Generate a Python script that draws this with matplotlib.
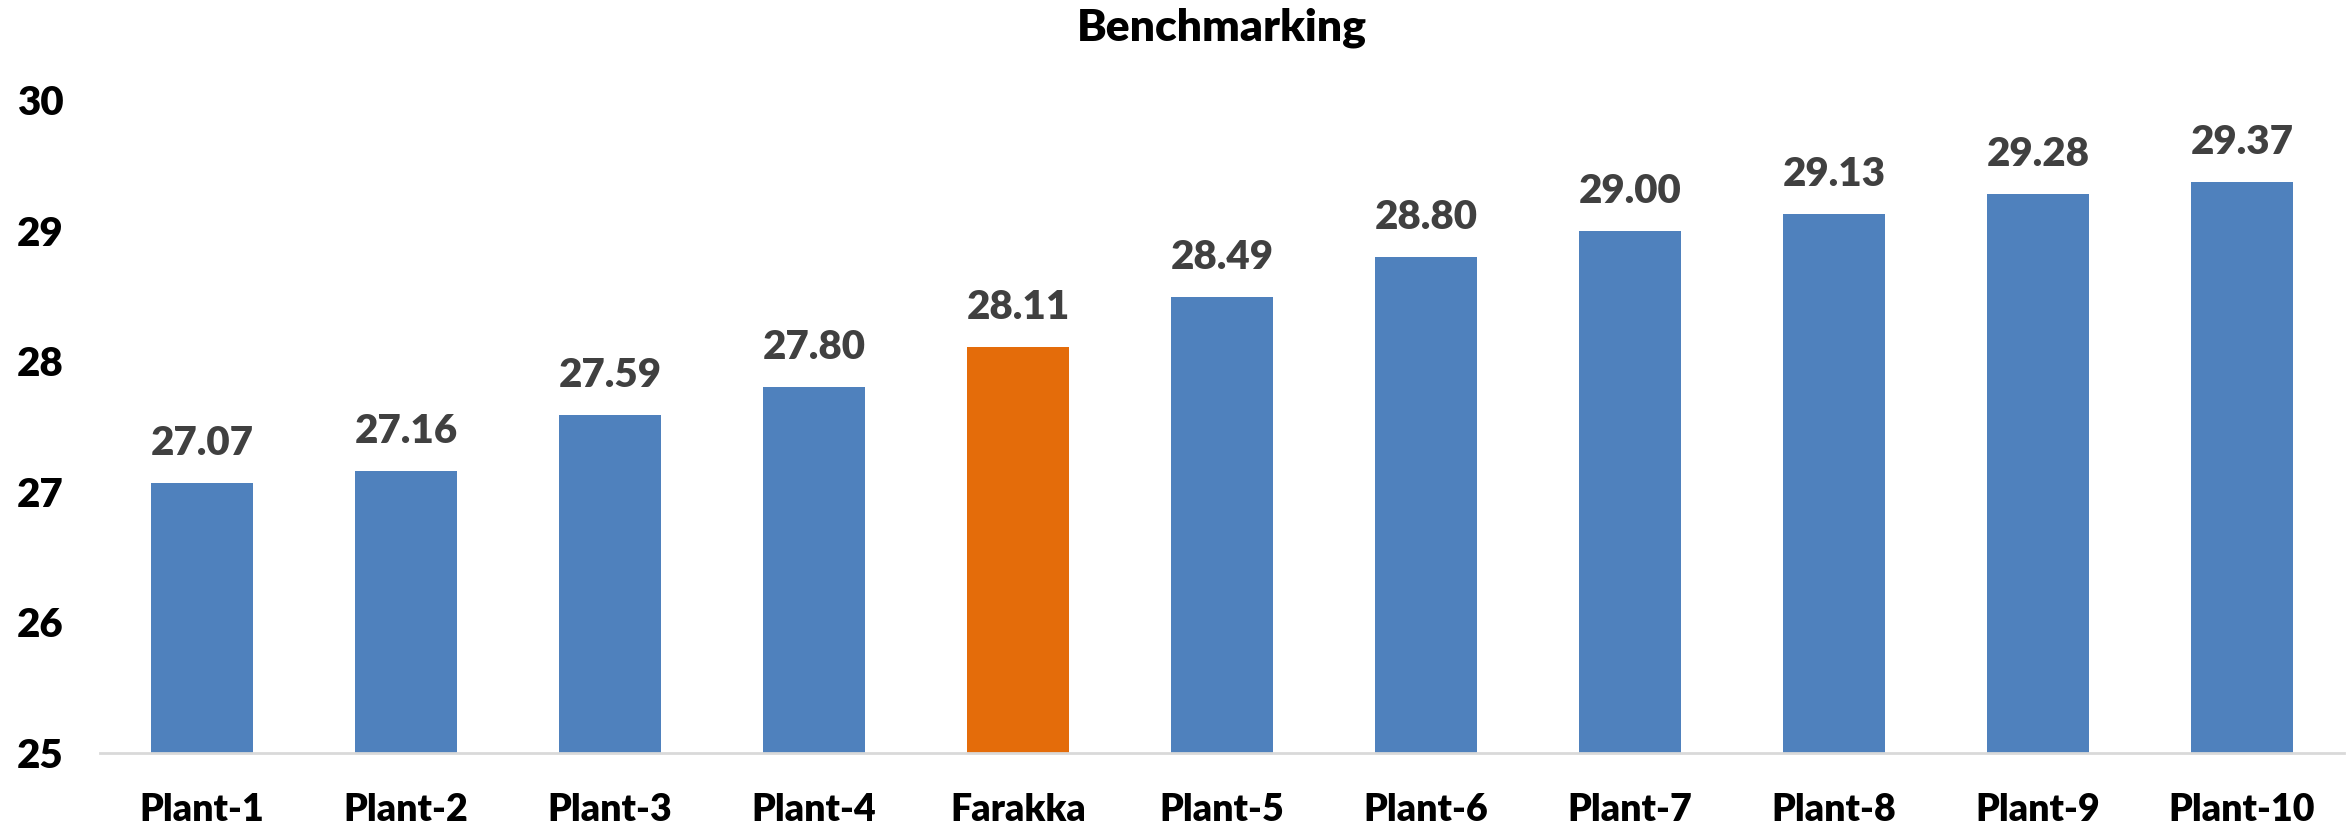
import matplotlib.pyplot as plt

plants = ['Plant-1', 'Plant-2', 'Plant-3', 'Plant-4', 'Farakka', 'Plant-5',
          'Plant-6', 'Plant-7', 'Plant-8', 'Plant-9', 'Plant-10']
values = [27.07, 27.16, 27.59, 27.80, 28.11, 28.49, 28.80, 29.00, 29.13, 29.28, 29.37]
highlight = 'Farakka'

plt.rcParams['font.family'] = ['Lato', 'DejaVu Sans']
plt.rcParams['font.weight'] = 'heavy'

fig = plt.figure(figsize=(23.46, 8.27), dpi=100)
ax = fig.add_axes([100 / 2346, 74 / 827, 2244 / 2346, 653 / 827])

colors = ['#E46C0A' if p == highlight else '#4F81BD' for p in plants]
bars = ax.bar(plants, values, width=0.5, color=colors, bottom=0)

ax.set_ylim(25, 30)
ax.set_xlim(-0.5, len(plants) - 0.5)
ax.set_yticks([25, 26, 27, 28, 29, 30])

for b, v in zip(bars, values):
    ax.annotate(f'{v:.2f}', (b.get_x() + b.get_width() / 2, v),
                xytext=(0, 15), textcoords='offset points',
                ha='center', va='bottom', fontsize=29, fontweight='heavy',
                color='#404040')

for s in ['top', 'right', 'left']:
    ax.spines[s].set_visible(False)
ax.spines['bottom'].set_color('#D9D9D9')
ax.spines['bottom'].set_linewidth(2)

ax.tick_params(axis='x', length=0, pad=29, labelsize=27)
ax.tick_params(axis='y', length=0, pad=60, labelsize=29)
for lab in ax.get_yticklabels():
    lab.set_horizontalalignment('left')
    lab.set_fontweight('heavy')
for lab in ax.get_xticklabels():
    lab.set_fontweight('heavy')

fig.text(1222 / 2346, 1 - 28 / 827, 'Benchmarking', ha='center', va='center',
         fontsize=32, fontweight='heavy')

plt.savefig('out.png')
